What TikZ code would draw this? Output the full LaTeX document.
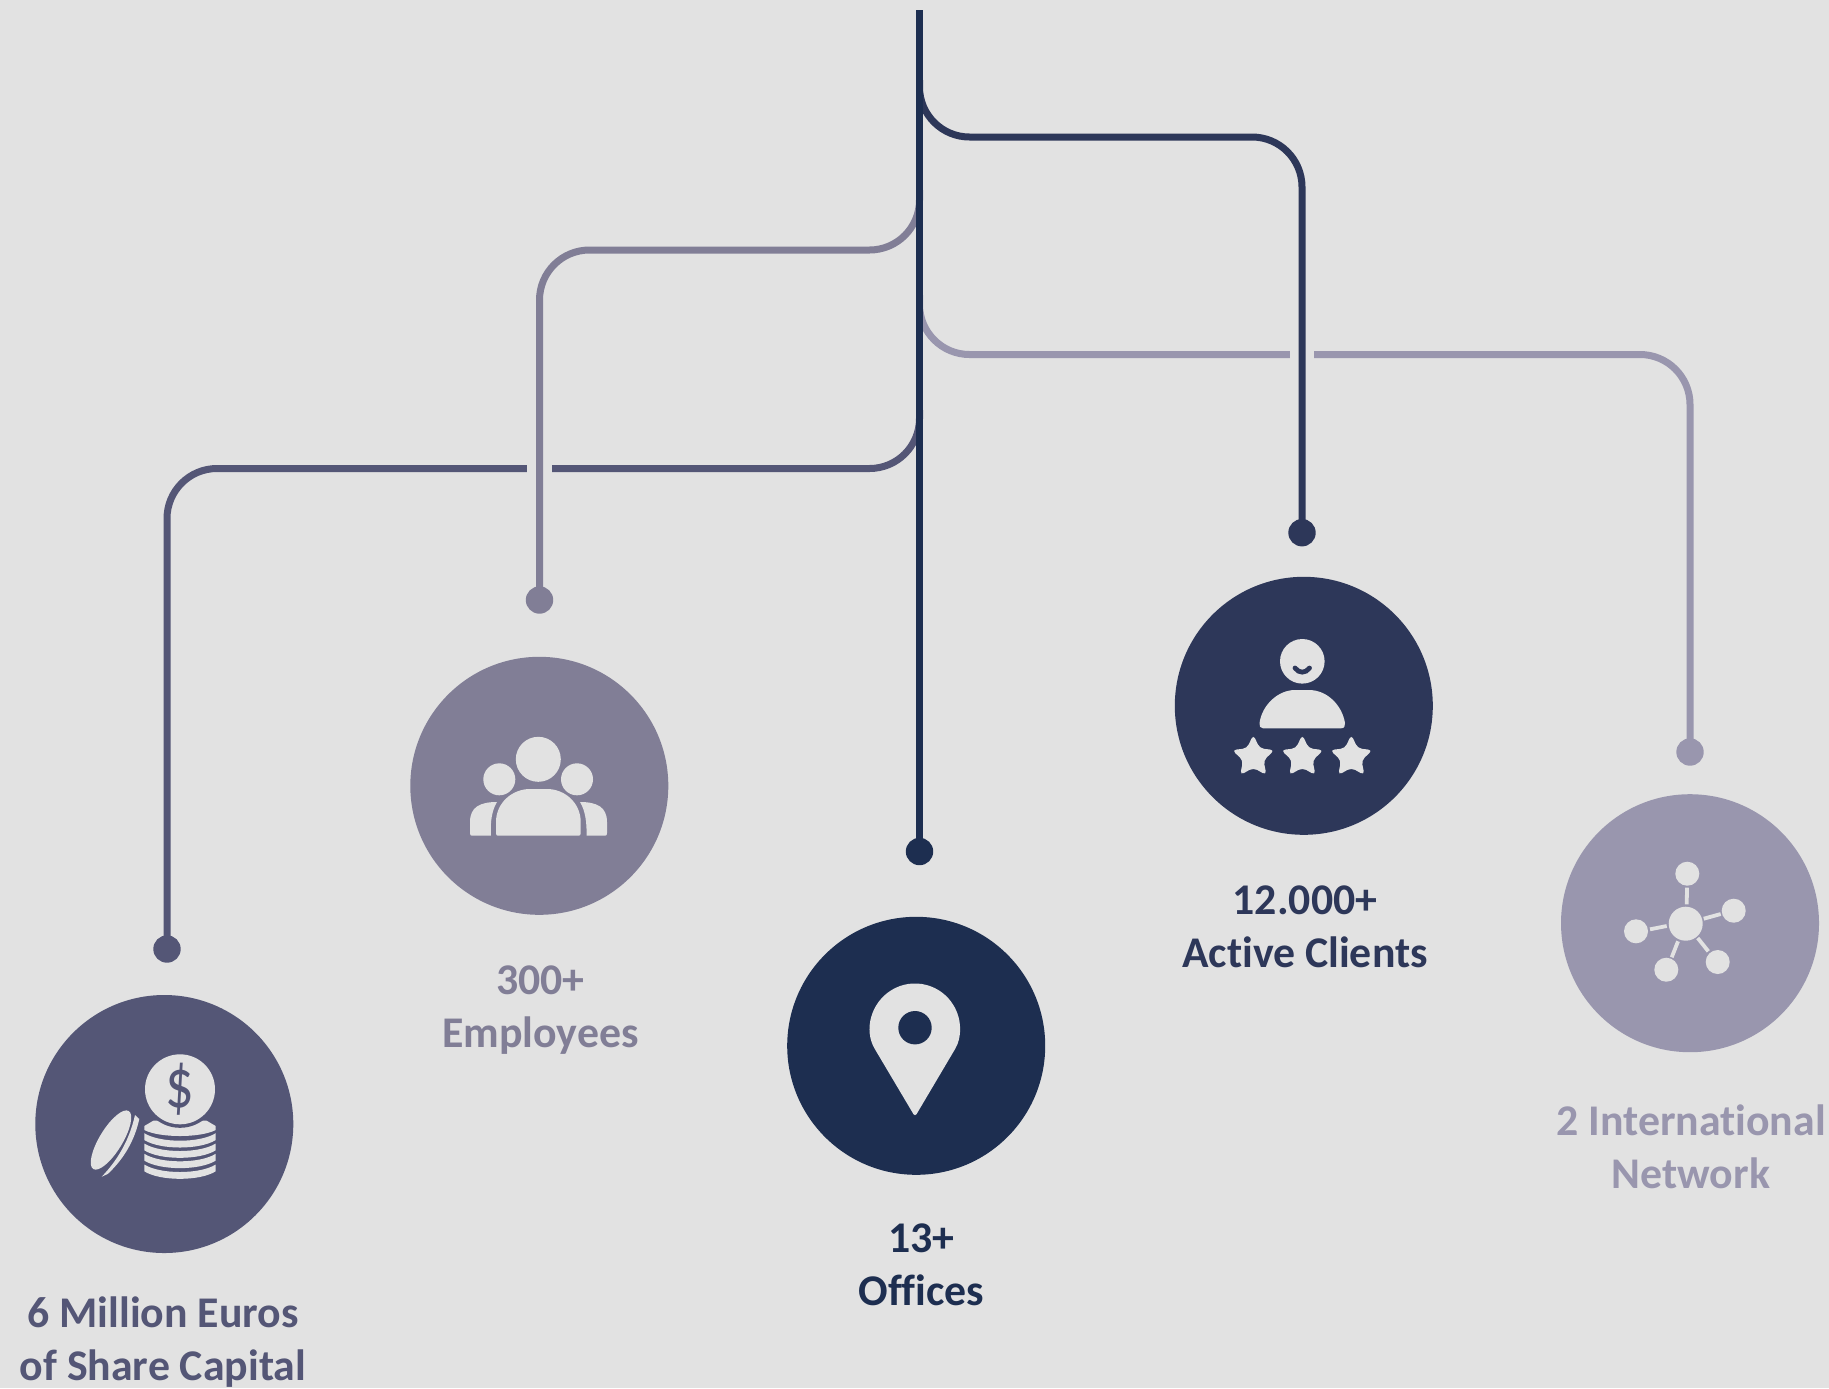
\documentclass[tikz,border=0pt]{standalone}
\usepackage{graphicx}
\usepackage{fontspec}
\setmainfont[Ligatures=CommonOff]{Carlito}
\usetikzlibrary{shapes.geometric}
\definecolor{bgc}{HTML}{E2E2E2}
\definecolor{ca}{HTML}{545676}
\definecolor{cb}{HTML}{817E96}
\definecolor{cc}{HTML}{2D3759}
\definecolor{cd}{HTML}{9996AE}
\definecolor{ce}{HTML}{1D2E50}
\tikzset{
 disc/.style={circle,minimum size=129pt,inner sep=0pt,draw=none,fill=#1},
 dotend/.style={circle,minimum size=27.4*0.5pt,inner sep=0pt,draw=none,fill=#1},
 branch/.style={line width=3.5pt,draw=#1,rounded corners=25pt},
 halo/.style={line width=12.3pt,draw=bgc},
 caption/.style={font=\fontsize{21.9pt}{26.4pt}\selectfont\bfseries,align=center,text=#1,inner sep=0pt,anchor=base},
 staricon/.style={star,star points=5,star point ratio=2.1,minimum size=22.5pt,inner sep=0pt,fill=bgc,rounded corners=2.2pt,draw=none},
 band/.pic={
  \fill[bgc] (0,-0.5) -- (0,6.3) .. controls (16,16.3) and (55.4,16.3) .. (71.4,6.3) -- (71.4,-0.5) .. controls (55.4,9.5) and (16,9.5) .. cycle;
 }
}
\begin{document}
\begin{tikzpicture}[x=0.5pt,y=-0.5pt]
\useasboundingbox (0,0) rectangle (1829,1388);
\fill[bgc] (0,0) rectangle (1829,1388);

% discs
\node[disc=ca] (c1) at (164.3,1124) {};
\node[disc=cb] (c2) at (539.3,785.8) {};
\node[disc=ce] (c5) at (916.2,1045.8) {};
\node[disc=cc] (c3) at (1303.8,705.8) {};
\node[disc=cd] (c4) at (1690,923.2) {};

% end dots
\node[dotend=ca] (d1) at (167,949) {};
\node[dotend=cb] (d2) at (539.5,600) {};
\node[dotend=ce] (d5) at (919.5,851.5) {};
\node[dotend=cc] (d3) at (1302,532.7) {};
\node[dotend=cd] (d4) at (1690,752) {};

% branch way points
\coordinate (top) at (919.5,10);
\coordinate (s3) at (919.5,80);   \coordinate (e3a) at (919.5,137);  \coordinate (e3b) at (1302,137);
\coordinate (s4) at (919.5,295);  \coordinate (e4a) at (919.5,354.5);\coordinate (e4b) at (1690,354.5);
\coordinate (s2) at (919.5,190);  \coordinate (e2a) at (919.5,250);  \coordinate (e2b) at (539.5,250);
\coordinate (s1) at (919.5,410);  \coordinate (e1a) at (919.5,468.5);\coordinate (e1b) at (167,468.5);
\coordinate (x34a) at (1302,348); \coordinate (x34b) at (1302,361);
\coordinate (x12a) at (539.5,462); \coordinate (x12b) at (539.5,475);

\draw[branch=cd] (s4) -- (e4a) -- (e4b) -- (d4.center);
\draw[halo] (x34a) -- (x34b);
\draw[branch=cc] (s3) -- (e3a) -- (e3b) -- (d3.center);
\draw[branch=ca] (s1) -- (e1a) -- (e1b) -- (d1.center);
\draw[halo] (x12a) -- (x12b);
\draw[branch=cb] (s2) -- (e2a) -- (e2b) -- (d2.center);
\draw[line width=3.5pt,draw=ce] (top) -- (d5.center);

% captions
\node[caption=ca] (t1) at (163,1380) {6 Million Euros\\of Share Capital};
\node[caption=cb] (t2) at (540.5,1047) {300+\\Employees};
\node[caption=ce] (t5) at (921.5,1305) {13+\\Offices};
\node[caption=cc] (t3) at (1305,967) {12.000+\\Active Clients};
\node[caption=cd] (t4) at (1691,1188) {2 International\\Network};

% money icon
\fill[bgc] (144.3,1126) -- (144.3,1130) .. controls (160,1138) and (200,1138) .. (215.7,1130) -- (215.7,1126) -- (206.7,1120.7) -- (153.3,1120.7) -- cycle;
\fill[ca] (180,1089.3) circle[radius=38.5];
\fill[bgc] (180,1089.3) circle[radius=35];
\pic at (144.3,1133.7) {band};
\pic at (144.3,1144) {band};
\pic at (144.3,1154.3) {band};
\pic at (144.3,1165) {band};
\node[text=ca,inner sep=0pt,font=\fontsize{27pt}{27pt}\selectfont] (dollar) at (180,1089.3) {\scalebox{1.05}[1.3]{\$}};
\fill[bgc,rotate around={58.6:(111,1140)}] (111,1140) ellipse[x radius=34,y radius=11.5];
\fill[bgc] (135,1115) -- (139.3,1119) .. controls (134.6,1140.4) and (124,1158.8) .. (107.7,1174) -- (101.7,1176.7) .. controls (118.6,1159.1) and (129.7,1138.7) .. cycle;

% people icon
\fill[bgc] (538.3,759.3) circle[radius=22.5];
\fill[bgc] (499.3,779.3) circle[radius=16];
\fill[bgc] (577,779.3) circle[radius=16];
\fill[bgc] (498,835.7) .. controls (496.5,835.7) and (496,835) .. (496,833) -- (496,822) .. controls (496,803) and (512,789) .. (530,789) -- (547,789) .. controls (565,789) and (580.7,803) .. (580.7,822) -- (580.7,833) .. controls (580.7,835) and (580,835.7) .. (578.5,835.7) -- cycle;
\fill[bgc] (472,835.7) .. controls (470.5,835.7) and (470,835) .. (470,833) -- (470,822) .. controls (470,807) and (480,802) .. (497,802) .. controls (492,810) and (490,822) .. (491,835.7) -- cycle;
\fill[bgc] (605,835.7) .. controls (606.5,835.7) and (607,835) .. (607,833) -- (607,822) .. controls (607,807) and (597,802) .. (580,802) .. controls (585,810) and (587,822) .. (586.5,835.7) -- cycle;

% pin icon
\fill[bgc,rounded corners=1.5pt] (915,1116.7) -- (876.3,1051.5) arc[start angle=149.2,end angle=390.8,radius=45] -- cycle;
\fill[ce] (915,1027.7) circle[radius=16.7];

% clients icon
\fill[bgc] (1302.3,661.3) circle[radius=22.3];
\draw[cc,line width=2.4pt,line cap=round] (1295,668) .. controls (1299,673.5) and (1305.5,673.5) .. (1309.5,668);
\fill[bgc] (1263,728.3) .. controls (1260,728.3) and (1259.3,726) .. (1259.5,723) .. controls (1262,705) and (1278,690) .. (1295,690) -- (1309,690) .. controls (1327,690) and (1342,705) .. (1345,723) .. controls (1345.2,726) and (1344.5,728.3) .. (1341,728.3) -- cycle;
\node[staricon] (st1) at (1253.3,757) {};
\node[staricon] (st2) at (1302.3,757) {};
\node[staricon] (st3) at (1351.3,757) {};

% network icon
\fill[bgc] (1685.7,923.7) circle[radius=17];
\fill[bgc] (1687.3,873.7) circle[radius=12];
\fill[bgc] (1733.7,910.7) circle[radius=12];
\fill[bgc] (1717.7,962) circle[radius=12];
\fill[bgc] (1666.3,969.7) circle[radius=12];
\fill[bgc] (1636,931.3) circle[radius=12];
\draw[bgc,line width=1.9pt] (1687,887.7) -- (1686.7,904.3);
\draw[bgc,line width=1.9pt] (1703.7,918.7) -- (1720.7,914);
\draw[bgc,line width=1.9pt] (1697.7,938) -- (1708.3,951.3);
\draw[bgc,line width=1.9pt] (1678,941.3) -- (1671.7,957.3);
\draw[bgc,line width=1.9pt] (1666.7,926) -- (1650,929.3);
\end{tikzpicture}
\end{document}
